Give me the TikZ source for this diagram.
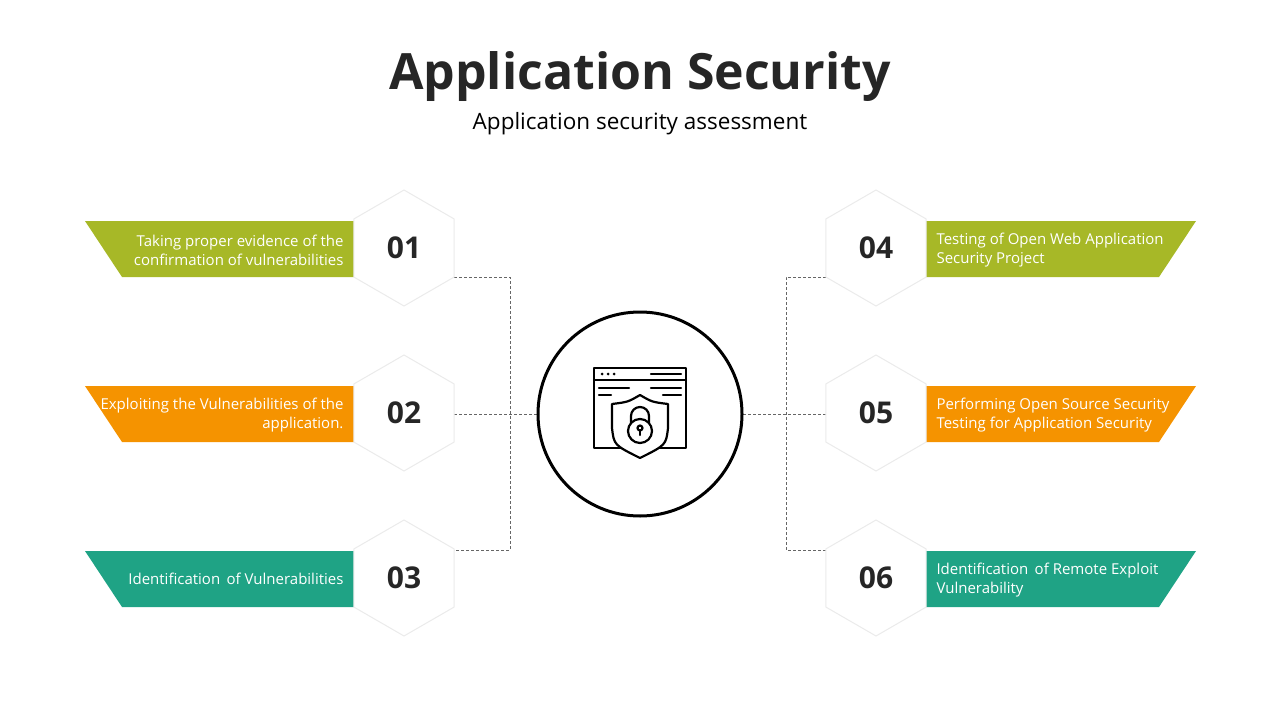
\documentclass[tikz,border=0pt]{standalone}
\usepackage{fontspec}
\setmainfont{Open Sans}
\usetikzlibrary{positioning,shapes.geometric}
\definecolor{asGreen} {HTML}{A7B827}
\definecolor{asOrange}{HTML}{F59300}
\definecolor{asTeal}  {HTML}{1FA385}
\definecolor{asText}  {HTML}{262626}
\begin{document}
\begin{tikzpicture}
[x=1pt, y=-1pt,
  hexa/.style = { regular polygon, regular polygon sides = 6, shape border rotate = 30, minimum size = 116pt, inner sep = 0pt,
                  fill = white, draw = black!8, line width = 1pt, font = \bfseries\fontsize{30}{30}\selectfont, text = asText },
  bannertext/.style = { font = \fontsize{15}{19}\selectfont, text = white, align = right },
  conn/.style = { densely dashed, draw = black!60, line width = 0.7pt }
]
\useasboundingbox (0,0) rectangle (1280,720);

% Title:
\node[font = \bfseries\fontsize{50}{50}\selectfont, text = asText] (title) at (640,77) {Application Security};
\node[font = \fontsize{22.5}{22.5}\selectfont, text = black] (subtitle) at (640,124) {Application security assessment};

% Banners left:
\fill[asGreen]  (85,221) -- (360,221) -- (360,277) -- (122,277) -- cycle;
\fill[asOrange] (85,386) -- (360,386) -- (360,442) -- (122,442) -- cycle;
\fill[asTeal]   (85,551) -- (360,551) -- (360,607) -- (122,607) -- cycle;
% Banners right:
\fill[asGreen]  (920,221) -- (1196,221) -- (1159,277) -- (920,277) -- cycle;
\fill[asOrange] (920,386) -- (1196,386) -- (1159,442) -- (920,442) -- cycle;
\fill[asTeal]   (920,551) -- (1196,551) -- (1159,607) -- (920,607) -- cycle;

% Banner texts:
\node[bannertext, anchor = east] (t1) at (347,250) {Taking proper evidence of the\\confirmation of vulnerabilities};
\node[bannertext, anchor = east] (t2) at (347,415) {Exploiting the Vulnerabilities of the\\application.};
\node[bannertext, anchor = east] (t3) at (347,579) {Identification\, of Vulnerabilities};
\node[bannertext, anchor = west, align = left] (t4) at (933,250) {Testing of Open Web Application\\Security Project};
\node[bannertext, anchor = west, align = left] (t5) at (933,415) {Performing Open Source Security\\Testing for Application Security};
\node[bannertext, anchor = west, align = left] (t6) at (933,580) {Identification\, of Remote Exploit\\Vulnerability};

% Connectors:
\coordinate (lj1) at (510,277);
\coordinate (lj3) at (510,550);
\coordinate (rj4) at (786,277);
\coordinate (rj6) at (786,550);
\coordinate (h1r) at (454,277);
\coordinate (h3r) at (454,550);
\coordinate (h4l) at (826,277);
\coordinate (h6l) at (826,550);
\draw[conn] (h1r) -- (lj1) -- (lj3) -- (h3r);
\draw[conn] (h4l) -- (rj4) -- (rj6) -- (h6l);
\draw[conn] (454,414) -- (537,414);
\draw[conn] (743,414) -- (826,414);

% Hexagons:
\node[hexa] (h1) at (404,248) {01};
\node[hexa] (h2) at (404,413) {02};
\node[hexa] (h3) at (404,578) {03};
\node[hexa] (h4) at (876,248) {04};
\node[hexa] (h5) at (876,413) {05};
\node[hexa] (h6) at (876,578) {06};

% Centre circle:
\node[circle, draw, line width = 3pt, fill = white, minimum size = 204pt] (hub) at (640,414) {};

% Icon:
\begin{scope}[line width = 2.2pt, line cap = round, line join = round]
  \draw (594,368) rectangle (686,448);
  \draw (594,380) -- (686,380);
  \foreach \dx in {602,608,614} \fill (\dx,374) circle (1.5);
  \draw (651,374) -- (681,374);
  \draw (599,388) -- (629,388);  \draw (651,388) -- (681,388);
  \draw (599,395) -- (611,395);  \draw (663,395) -- (681,395);
  \draw[fill = white] (640,395) .. controls (628,402) .. (612,404) -- (612,428)
        .. controls (614,445) .. (640,458) .. controls (666,445) .. (668,428) -- (668,404)
        .. controls (652,402) .. cycle;
  \draw[fill = white] (640,431) circle (12);
  \draw (631,423) -- (631,416) arc (180:360:9) -- (649,423);
  \draw (640,428) circle (2.5);
  \draw (640,430) -- (640,435);
\end{scope}
\end{tikzpicture}
\end{document}
